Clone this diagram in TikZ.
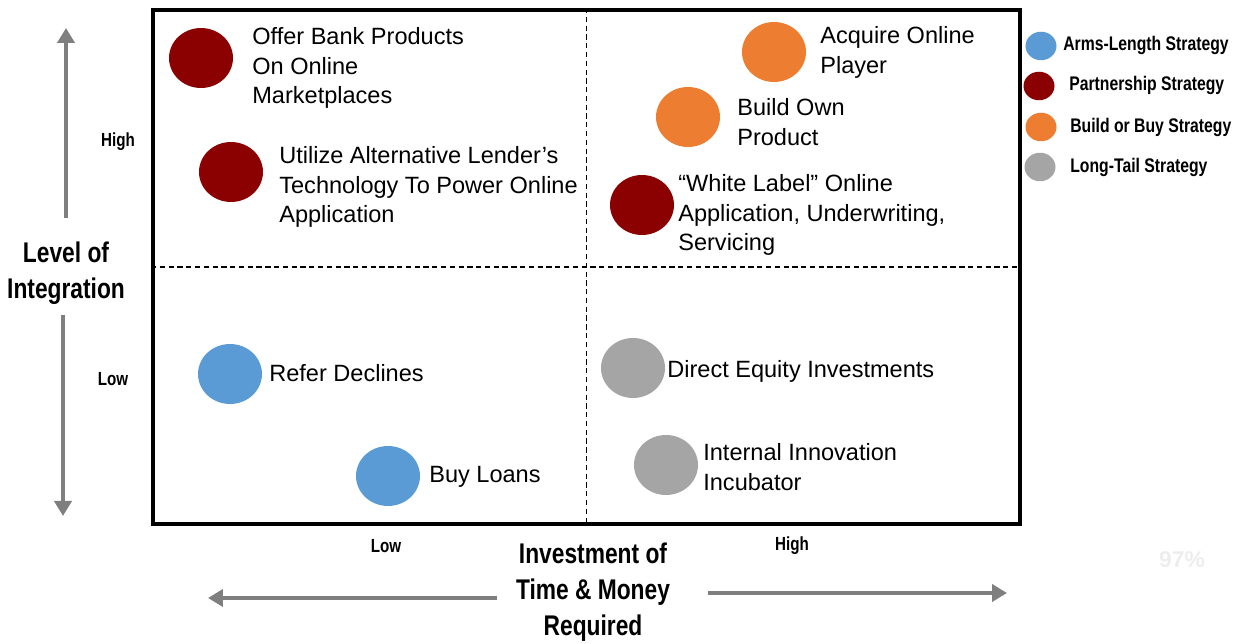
\documentclass[tikz,border=0pt]{standalone}
\usepackage{fontspec}
\setmainfont{Liberation Sans}
\newfontfamily\condfont[FakeStretch=0.8]{Liberation Sans}
\usetikzlibrary{arrows.meta,shapes.geometric}
\definecolor{armsblue}{HTML}{5B9BD5}
\definecolor{partnerred}{HTML}{8B0000}
\definecolor{buildorange}{HTML}{ED7D31}
\definecolor{tailgray}{HTML}{A5A5A5}
\definecolor{axisgray}{HTML}{7F7F7F}

\begin{document}
\begin{tikzpicture}[x=0.02cm, y=-0.02cm,
    dot/.style={ellipse, minimum width=1.28cm, minimum height=1.2cm, inner sep=0pt},
    legdot/.style={ellipse, minimum width=0.62cm, minimum height=0.57cm, inner sep=0pt},
    txt/.style={anchor=west, align=left, inner sep=0pt, font=\fontsize{13.4}{17}\selectfont},
    legtxt/.style={anchor=west, inner sep=0pt, font=\condfont\bfseries\fontsize{11.2}{14}\selectfont},
    axislbl/.style={inner sep=0pt, font=\condfont\bfseries\fontsize{10.8}{13}\selectfont},
    axistitle/.style={align=center, inner sep=0pt, font=\condfont\bfseries\fontsize{16.2}{20.4}\selectfont},
    axisarrow/.style={draw=axisgray, line width=2.8pt, -{Triangle[width=0.34cm, length=0.3cm]}},
    divider/.style={line width=0.9pt, dash pattern=on 3pt off 2pt}]
    \useasboundingbox (0,0) rectangle (1242,644);

    % quadrant frame
    \node[draw, line width=2.3pt, minimum width=17.34cm, minimum height=10.28cm, inner sep=0pt] (grid) at (586.5,267) {};
    \draw[divider] (grid.north) -- (grid.south);
    \draw[divider] (grid.west) -- (grid.east);

    % strategies
    \node[dot, fill=partnerred] (offer) at (201,58) {};
    \node[txt] (offertxt) at (252,68) {Offer Bank Products\\On Online\\Marketplaces};
    \node[dot, fill=partnerred] (utilize) at (231,172) {};
    \node[txt] (utilizetxt) at (279,187) {Utilize Alternative Lender’s\\Technology To Power Online\\Application};
    \node[dot, fill=buildorange] (acquire) at (774,52) {};
    \node[txt] (acquiretxt) at (820,52) {Acquire Online\\Player};
    \node[dot, fill=buildorange] (buildown) at (688,117) {};
    \node[txt] (buildowntxt) at (737,122) {Build Own\\Product};
    \node[dot, fill=partnerred] (whitelabel) at (642,205) {};
    \node[txt] (whitelabeltxt) at (678,215) {“White Label” Online\\Application, Underwriting,\\Servicing};
    \node[dot, fill=armsblue] (refer) at (230,374) {};
    \node[txt] (refertxt) at (269,373) {Refer Declines};
    \node[dot, fill=armsblue] (buyloans) at (388,476) {};
    \node[txt] (buyloanstxt) at (429,477) {Buy Loans};
    \node[dot, fill=tailgray] (equity) at (633,368) {};
    \node[txt] (equitytxt) at (667,371) {Direct Equity Investments};
    \node[dot, fill=tailgray] (incubator) at (666,465) {};
    \node[txt] (incubatortxt) at (703,467) {Internal Innovation\\Incubator};

    % legend
    \node[legdot, fill=armsblue] (legarms) at (1041,46) {};
    \node[legtxt] (legarmstxt) at (1063,45) {Arms-Length Strategy};
    \node[legdot, fill=partnerred] (legpartner) at (1039,86) {};
    \node[legtxt] (legpartnertxt) at (1069,85) {Partnership Strategy};
    \node[legdot, fill=buildorange] (legbuild) at (1041,127) {};
    \node[legtxt] (legbuildtxt) at (1070,127) {Build or Buy Strategy};
    \node[legdot, fill=tailgray] (legtail) at (1040,167) {};
    \node[legtxt] (legtailtxt) at (1070,167) {Long-Tail Strategy};

    % axes
    \node[axistitle] (ytitle) at (66,273) {Level of\\Integration};
    \node[axislbl] (yhigh) at (118,142) {High};
    \node[axislbl] (ylow) at (113,379) {Low};
    \coordinate (upstart) at (66,218);
    \coordinate (uptip) at (66,28);
    \coordinate (downstart) at (63,315);
    \coordinate (downtip) at (63,516);
    \draw[axisarrow] (upstart) -- (uptip);
    \draw[axisarrow] (downstart) -- (downtip);

    \node[axistitle] (xtitle) at (593,592) {Investment of\\Time \& Money\\Required};
    \node[axislbl] (xlow) at (386,546) {Low};
    \node[axislbl] (xhigh) at (792,546) {High};
    \coordinate (leftstart) at (497,598);
    \coordinate (lefttip) at (208,598);
    \coordinate (rightstart) at (708,593);
    \coordinate (righttip) at (1007,593);
    \draw[axisarrow] (leftstart) -- (lefttip);
    \draw[axisarrow] (rightstart) -- (righttip);

    \node[inner sep=0pt, text=black!7, font=\bfseries\fontsize{13}{15}\selectfont] (pct) at (1182,560) {97\%};
\end{tikzpicture}
\end{document}
